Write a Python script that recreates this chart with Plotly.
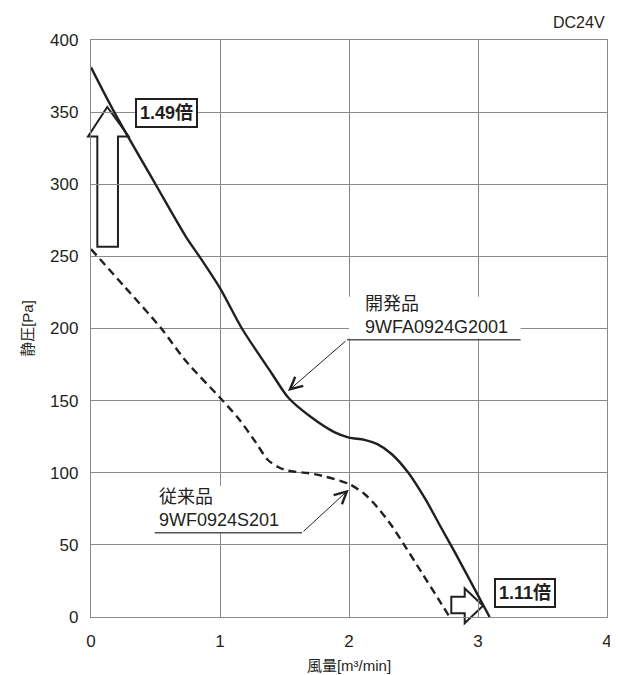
import plotly.graph_objects as go

# ---- data ----
new_flow = [0, 0.18, 0.50, 0.74, 0.84, 1.0, 1.17, 1.40, 1.53, 1.70, 1.89, 2.0, 2.12, 2.22, 2.33, 2.46, 2.59, 2.72, 2.82, 3.0, 3.09]
new_pressure = [381, 350, 300, 263, 250, 228, 200, 169, 152, 139, 128, 124.4, 122.8, 119.8, 113, 100, 82, 61, 45, 15, 0]

old_flow = [0, 0.26, 0.545, 0.73, 1.0, 1.14, 1.27, 1.37, 1.45, 1.53, 1.68, 1.79, 2.0, 2.12, 2.22, 2.33, 2.43, 2.56, 2.69, 2.78]
old_pressure = [255, 229, 200, 178, 152, 138, 122, 109, 104, 101.4, 99.8, 97.9, 92.2, 85.3, 76.1, 63.4, 49.7, 31.3, 12.9, 0]

x_ticks = [0, 1, 2, 3, 4]
y_ticks = [0, 50, 100, 150, 200, 250, 300, 350, 400]

new_label = "開発品<br>9WFA0924G2001"
old_label = "従来品<br>9WF0924S201"
ratio_pressure = "1.49倍"
ratio_flow = "1.11倍"

X_MAX, Y_MAX = 4, 400
FONT = "Liberation Sans, Arial, Noto Sans CJK JP, sans-serif"
INK = "#231f20"
GRID = "#8a8a8a"

def px(x):
    return x / X_MAX

def py(y):
    return y / Y_MAX

def path(points):
    return "M " + " L ".join(f"{px(a):.5f},{py(b):.5f}" for a, b in points) + " Z"

fig = go.Figure()
fig.add_trace(go.Scatter(x=old_flow, y=old_pressure, mode="lines",
                         line=dict(color=INK, width=2.4, dash="8px,5px", shape="spline", smoothing=0.8),
                         hoverinfo="skip", showlegend=False))
fig.add_trace(go.Scatter(x=new_flow, y=new_pressure, mode="lines",
                         line=dict(color=INK, width=2.4, shape="spline", smoothing=0.8),
                         hoverinfo="skip", showlegend=False))

shapes = []
# hollow up arrow
up = [(0.049, 256.6), (0.049, 333.1), (-0.023, 333.1), (0.126, 353.6), (0.292, 333.1),
      (0.209, 333.1), (0.209, 256.6)]
shapes.append(dict(type="path", xref="paper", yref="paper", path=path(up),
                   fillcolor="white", line=dict(color=INK, width=2), layer="between"))
# hollow right arrow
right = [(2.793, 2.55), (2.793, 14.0), (2.897, 14.0), (2.897, 19.8), (3.039, 7.8),
         (2.897, -4.3), (2.897, 2.55)]
shapes.append(dict(type="path", xref="paper", yref="paper", path=path(right),
                   fillcolor="white", line=dict(color=INK, width=2), layer="between"))
# label backgrounds + underlines
shapes.append(dict(type="rect", xref="x", yref="y", x0=2.0, x1=3.33, y0=193, y1=222,
                   fillcolor="white", line=dict(width=0), layer="between"))
shapes.append(dict(type="line", xref="x", yref="y", x0=1.985, x1=3.33, y0=192.2, y1=192.2,
                   line=dict(color="#555", width=1.3), layer="above"))
shapes.append(dict(type="rect", xref="x", yref="y", x0=0.494, x1=1.636, y0=59, y1=91,
                   fillcolor="white", line=dict(width=0), layer="between"))
shapes.append(dict(type="line", xref="x", yref="y", x0=0.494, x1=1.636, y0=58.4, y1=58.4,
                   line=dict(color="#555", width=1.3), layer="above"))

annotations = [
    dict(x=0.584, y=349.7, xref="x", yref="y", text=f"<b>{ratio_pressure}</b>", showarrow=False,
         font=dict(family=FONT, size=18, color=INK), bgcolor="white", bordercolor=INK,
         borderwidth=2, borderpad=3),
    dict(x=3.362, y=16.8, xref="x", yref="y", text=f"<b>{ratio_flow}</b>", showarrow=False,
         font=dict(family=FONT, size=18, color=INK), bgcolor="white", bordercolor=INK,
         borderwidth=2, borderpad=3),
    dict(x=2.11, y=193, xref="x", yref="y", text=new_label, showarrow=False, align="left",
         xanchor="left", yanchor="bottom", font=dict(family=FONT, size=18, color=INK)),
    dict(x=0.51, y=59, xref="x", yref="y", text=old_label, showarrow=False, align="left",
         xanchor="left", yanchor="bottom", font=dict(family=FONT, size=18, color=INK)),
    dict(x=1.527, y=156.6, ax=1.985, ay=192.2, xref="x", yref="y", axref="x", ayref="y",
         text="", showarrow=True, arrowhead=5, arrowsize=2.4, arrowwidth=1, arrowcolor=INK),
    dict(x=1.998, y=88.3, ax=1.636, ay=58.4, xref="x", yref="y", axref="x", ayref="y",
         text="", showarrow=True, arrowhead=5, arrowsize=2.4, arrowwidth=1, arrowcolor=INK),
    dict(x=1, y=1.012, xref="paper", yref="paper", text="DC24V", showarrow=False,
         xanchor="right", yanchor="bottom", font=dict(family=FONT, size=16, color=INK)),
]

fig.update_layout(
    width=618, height=675,
    margin=dict(l=83, r=19, t=32, b=63),
    paper_bgcolor="white", plot_bgcolor="white",
    shapes=shapes, annotations=annotations,
    font=dict(family=FONT, color=INK),
)
fig.update_xaxes(range=[0, X_MAX], tickvals=x_ticks, ticktext=[str(v) for v in x_ticks],
                 showgrid=True, gridcolor=GRID, gridwidth=1.3, zeroline=False,
                 showline=True, linecolor=GRID, linewidth=1.3, mirror=True, ticks="",
                 tickfont=dict(size=17, color=INK), ticklabelstandoff=8,
                 title=dict(text="風量[m³/min]", font=dict(size=15, color=INK), standoff=10))
fig.update_yaxes(range=[0, Y_MAX], tickvals=y_ticks, ticktext=[str(v) for v in y_ticks],
                 showgrid=True, gridcolor=GRID, gridwidth=1.3, zeroline=False,
                 showline=True, linecolor=GRID, linewidth=1.3, mirror=True, ticks="",
                 tickfont=dict(size=17, color=INK), ticklabelstandoff=8,
                 title=dict(text="静圧[Pa]", font=dict(size=15, color=INK), standoff=12))

fig.write_html("out.html")
